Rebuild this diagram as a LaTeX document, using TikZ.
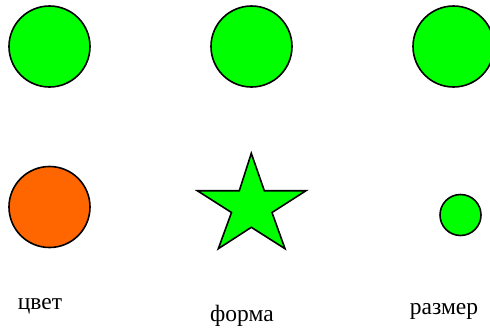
\documentclass[tikz,border=0pt]{standalone}
\usepackage{fontspec}
\setmainfont{Liberation Serif}
\definecolor{shapegreen}{HTML}{00FF00}
\definecolor{shapeorange}{HTML}{FF6600}
\begin{document}
\begin{tikzpicture}[x=1pt,y=-1pt,
  outl/.style={draw=black,line width=1.6pt,line join=miter},
  disc/.style={outl,circle,inner sep=0pt,minimum size=#1},
  lbl/.style={font=\fontsize{23.5}{27}\selectfont,inner sep=0pt,anchor=base}]
\useasboundingbox (0,0) rectangle (490,327);
\node[disc=81pt,fill=shapegreen] (c1) at (49.5,46.5) {};
\node[disc=81pt,fill=shapegreen] (c2) at (251.5,46.5) {};
\node[disc=81pt,fill=shapegreen] (c3) at (453.5,46.5) {};
\node[disc=81pt,fill=shapeorange] (c4) at (49.5,207) {};
\node[disc=41pt,fill=shapegreen] (c5) at (460.5,215) {};
\draw[outl,fill=shapegreen] (251.3,153.3) -- (264.3,190.7) -- (306,190.7) -- (272,212.5)
  -- (285,248.7) -- (251.3,227.3) -- (218.3,248.7) -- (231.5,212.5) -- (197.3,190.7)
  -- (239.3,190.7) -- cycle;
\node[lbl] (t1) at (40,309.5) {цвет};
\node[lbl] (t2) at (242,321) {форма};
\node[lbl] (t3) at (444,314) {размер};
\end{tikzpicture}
\end{document}
